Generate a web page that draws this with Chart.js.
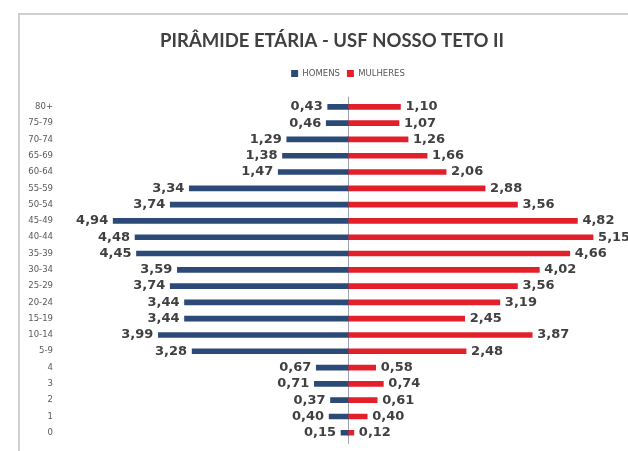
<!DOCTYPE html>
<html>
<head>
<meta charset="utf-8">
<script src="https://cdn.jsdelivr.net/npm/chart.js@4/dist/chart.umd.min.js"></script>
<style>
  html, body { margin: 0; padding: 0; background: #fff; }
  #caixa { width: 628px; height: 451px; }
</style>
</head>
<body>
<div id="caixa"><canvas id="piramide"></canvas></div>
<script>
// Faixas etárias (de cima para baixo)
var faixas = ['80+', '75-79', '70-74', '65-69', '60-64', '55-59', '50-54', '45-49', '40-44', '35-39',
  '30-34', '25-29', '20-24', '15-19', '10-14', '5-9', '4', '3', '2', '1', '0'];

// Percentual da população por sexo
var homens = [0.43, 0.46, 1.29, 1.38, 1.47, 3.34, 3.74, 4.94, 4.48, 4.45,
  3.59, 3.74, 3.44, 3.44, 3.99, 3.28, 0.67, 0.71, 0.37, 0.40, 0.15];
var mulheres = [1.10, 1.07, 1.26, 1.66, 2.06, 2.88, 3.56, 4.82, 5.15, 4.66,
  4.02, 3.56, 3.19, 2.45, 3.87, 2.48, 0.58, 0.74, 0.61, 0.40, 0.12];

var azul = '#2b4a78';
var vermelho = '#e3202a';

// Escreve o valor na ponta de cada barra
var rotulos = {
  id: 'rotulos',
  afterDatasetsDraw: function (chart) {
    var c = chart.ctx;
    c.save();
    c.font = 'bold 13px "DejaVu Sans"';
    c.fillStyle = '#404040';
    c.textBaseline = 'middle';
    chart.data.datasets.forEach(function (ds, i) {
      chart.getDatasetMeta(i).data.forEach(function (barra, j) {
        var v = ds.data[j];
        var txt = Math.abs(v).toFixed(2).replace('.', ',');
        if (v < 0) {
          c.textAlign = 'right';
          c.fillText(txt, barra.x - 5, barra.y);
        } else {
          c.textAlign = 'left';
          c.fillText(txt, barra.x + 5, barra.y);
        }
      });
    });
    c.restore();
  }
};

// Linha central, moldura e pequeno ajuste horizontal de título e legenda
var moldura = {
  id: 'moldura',
  afterLayout: function (chart) {
    chart.titleBlock.left += 10;
    chart.titleBlock.right += 10;
    chart.legend.left += 7;
    chart.legend.right += 7;
  },
  beforeDatasetsDraw: function (chart) {
    var c = chart.ctx;
    var x0 = Math.round(chart.scales.x.getPixelForValue(0)) + 0.5;
    c.save();
    c.strokeStyle = '#9aa3b3';
    c.lineWidth = 1;
    c.beginPath();
    c.moveTo(x0, chart.chartArea.top - 2);
    c.lineTo(x0, chart.chartArea.bottom + 3);
    c.stroke();
    c.restore();
  },
  afterDraw: function (chart) {
    var c = chart.ctx;
    c.save();
    c.strokeStyle = '#cfcfcf';
    c.lineWidth = 2;
    c.beginPath();
    c.moveTo(19, 451);
    c.lineTo(19, 14);
    c.lineTo(628, 14);
    c.stroke();
    c.restore();
  }
};

new Chart(document.getElementById('piramide'), {
  type: 'bar',
  data: {
    labels: faixas,
    datasets: [{
      label: 'HOMENS',
      data: homens.map(function (v) { return -v; }),
      backgroundColor: azul,
      barThickness: 5
    }, {
      label: 'MULHERES',
      data: mulheres,
      backgroundColor: vermelho,
      barThickness: 5
    }]
  },
  options: {
    indexAxis: 'y',
    responsive: true,
    maintainAspectRatio: false,
    animation: false,
    layout: { padding: { left: 20, right: 4, top: 0, bottom: 4 } },
    scales: {
      x: {
        stacked: true,
        position: 'top',
        min: -6.1,
        max: 5.8,
        grid: { display: false },
        border: { display: false },
        ticks: { display: false },
        afterFit: function (escala) { escala.height = 11; }
      },
      y: {
        stacked: true,
        grid: { display: false, drawTicks: false },
        border: { display: false },
        ticks: {
          font: { family: 'DejaVu Sans', size: 8.5 },
          color: '#595959',
          padding: 5
        },
        afterFit: function (escala) { escala.width = 38; }
      }
    },
    plugins: {
      title: {
        display: true,
        text: 'PIRÂMIDE ETÁRIA - USF NOSSO TETO II',
        color: '#404040',
        font: { family: 'Lato', size: 18.5, weight: 'bold' },
        padding: { top: 30, bottom: 10 }
      },
      legend: {
        fullSize: false,
        labels: {
          boxWidth: 7,
          boxHeight: 7,
          color: '#595959',
          font: { family: 'DejaVu Sans', size: 8.5 },
          padding: 7
        }
      },
      tooltip: { enabled: false }
    }
  },
  plugins: [rotulos, moldura]
});
</script>
</body>
</html>
